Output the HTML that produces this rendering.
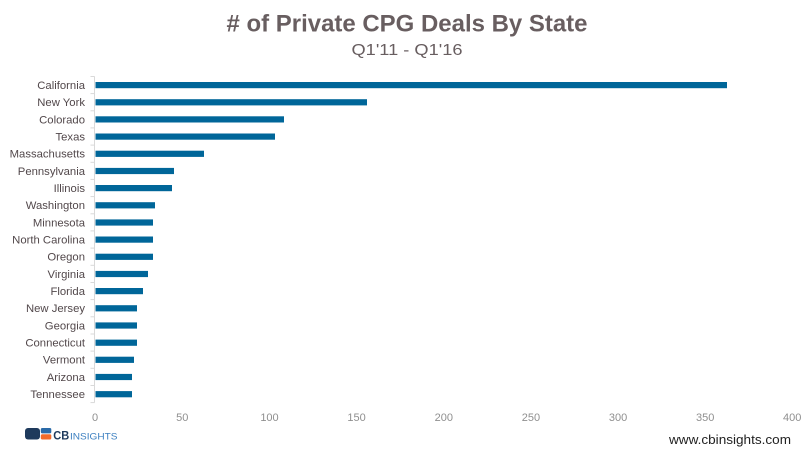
<!DOCTYPE html>
<html>
<head>
<meta charset="utf-8">
<style>
html,body{margin:0;padding:0;background:#fff;}
svg{display:block;}
</style>
</head>
<body>
<svg width="811" height="455" viewBox="0 0 811 455" xmlns="http://www.w3.org/2000/svg">
<rect width="811" height="455" fill="#fff"/>
<text x="407" y="31.5" text-anchor="middle" font-family="Liberation Sans, sans-serif" font-weight="bold" font-size="24" fill="#685e60" textLength="361" lengthAdjust="spacingAndGlyphs"># of Private CPG Deals By State</text>
<text x="407" y="55" text-anchor="middle" font-family="Liberation Sans, sans-serif" font-size="15.5" fill="#685e60" textLength="111" lengthAdjust="spacingAndGlyphs">Q1'11 - Q1'16</text>

<!-- axis -->
<line x1="94.5" y1="76.4" x2="94.5" y2="402.6" stroke="#d9d9d9" stroke-width="1"/>
<g stroke="#d9d9d9" stroke-width="1">
<line x1="90.5" x2="94.5" y1="76.5" y2="76.5"/>
<line x1="90.5" x2="94.5" y1="93.6" y2="93.6"/>
<line x1="90.5" x2="94.5" y1="110.8" y2="110.8"/>
<line x1="90.5" x2="94.5" y1="127.9" y2="127.9"/>
<line x1="90.5" x2="94.5" y1="145.1" y2="145.1"/>
<line x1="90.5" x2="94.5" y1="162.3" y2="162.3"/>
<line x1="90.5" x2="94.5" y1="179.4" y2="179.4"/>
<line x1="90.5" x2="94.5" y1="196.6" y2="196.6"/>
<line x1="90.5" x2="94.5" y1="213.8" y2="213.8"/>
<line x1="90.5" x2="94.5" y1="230.9" y2="230.9"/>
<line x1="90.5" x2="94.5" y1="248.1" y2="248.1"/>
<line x1="90.5" x2="94.5" y1="265.3" y2="265.3"/>
<line x1="90.5" x2="94.5" y1="282.5" y2="282.5"/>
<line x1="90.5" x2="94.5" y1="299.6" y2="299.6"/>
<line x1="90.5" x2="94.5" y1="316.8" y2="316.8"/>
<line x1="90.5" x2="94.5" y1="334.0" y2="334.0"/>
<line x1="90.5" x2="94.5" y1="351.1" y2="351.1"/>
<line x1="90.5" x2="94.5" y1="368.3" y2="368.3"/>
<line x1="90.5" x2="94.5" y1="385.5" y2="385.5"/>
<line x1="90.5" x2="94.5" y1="402.6" y2="402.6"/>
</g>

<!-- bars -->
<g fill="#006699">
<rect x="95.5" y="82" width="631.5" height="6.2"/>
<rect x="95.5" y="99.2" width="271.5" height="6.2"/>
<rect x="95.5" y="116.3" width="188.5" height="6.2"/>
<rect x="95.5" y="133.5" width="179.5" height="6.2"/>
<rect x="95.5" y="150.7" width="108.5" height="6.2"/>
<rect x="95.5" y="167.9" width="78.5" height="6.2"/>
<rect x="95.5" y="185" width="76.5" height="6.2"/>
<rect x="95.5" y="202.2" width="59.5" height="6.2"/>
<rect x="95.5" y="219.4" width="57.5" height="6.2"/>
<rect x="95.5" y="236.5" width="57.5" height="6.2"/>
<rect x="95.5" y="253.7" width="57.5" height="6.2"/>
<rect x="95.5" y="270.9" width="52.5" height="6.2"/>
<rect x="95.5" y="288" width="47.5" height="6.2"/>
<rect x="95.5" y="305.2" width="41.5" height="6.2"/>
<rect x="95.5" y="322.4" width="41.5" height="6.2"/>
<rect x="95.5" y="339.6" width="41.5" height="6.2"/>
<rect x="95.5" y="356.7" width="38.5" height="6.2"/>
<rect x="95.5" y="373.9" width="36.5" height="6.2"/>
<rect x="95.5" y="391.1" width="36.5" height="6.2"/>
</g>

<!-- category labels -->
<g font-family="Liberation Sans, sans-serif" font-size="11.3" fill="#52484b" text-anchor="end">
<text x="85" y="89">California</text>
<text x="85" y="106.2">New York</text>
<text x="85" y="123.3">Colorado</text>
<text x="85" y="140.5">Texas</text>
<text x="85" y="157.7">Massachusetts</text>
<text x="85" y="174.9">Pennsylvania</text>
<text x="85" y="192">Illinois</text>
<text x="85" y="209.2">Washington</text>
<text x="85" y="226.4">Minnesota</text>
<text x="85" y="243.5">North Carolina</text>
<text x="85" y="260.7">Oregon</text>
<text x="85" y="277.9">Virginia</text>
<text x="85" y="295">Florida</text>
<text x="85" y="312.2">New Jersey</text>
<text x="85" y="329.4">Georgia</text>
<text x="85" y="346.6">Connecticut</text>
<text x="85" y="363.7">Vermont</text>
<text x="85" y="380.9">Arizona</text>
<text x="85" y="398.1">Tennessee</text>
</g>

<!-- x tick labels -->
<g font-family="Liberation Sans, sans-serif" font-size="11" fill="#8f8f8f" text-anchor="middle">
<text x="95" y="421">0</text>
<text x="182.3" y="421">50</text>
<text x="269.5" y="421">100</text>
<text x="356.6" y="421">150</text>
<text x="443.8" y="421">200</text>
<text x="530.9" y="421">250</text>
<text x="618.1" y="421">300</text>
<text x="705.2" y="421">350</text>
<text x="792.2" y="421">400</text>
</g>

<!-- logo -->
<g>
<rect x="25" y="428" width="15" height="11.5" rx="3" fill="#1e3a5c"/>
<rect x="33" y="431.5" width="7" height="4.5" fill="#1e3a5c"/>
<rect x="40.8" y="428" width="10.5" height="5.4" rx="1.5" fill="#2a6aa8"/>
<rect x="40.8" y="434.2" width="10.5" height="5.3" rx="1.5" fill="#f26b2a"/>
<text x="53.3" y="439.3" font-family="Liberation Sans, sans-serif" font-weight="bold" font-size="11.5" fill="#1e3a5c" textLength="16" lengthAdjust="spacingAndGlyphs">CB</text>
<text x="70" y="439.3" font-family="Liberation Sans, sans-serif" font-size="9.5" fill="#3b7fc0" textLength="47.5" lengthAdjust="spacingAndGlyphs">INSIGHTS</text>
</g>

<text x="669" y="444" font-family="Liberation Sans, sans-serif" font-size="12.5" fill="#222" textLength="122" lengthAdjust="spacingAndGlyphs">www.cbinsights.com</text>
</svg>
</body>
</html>
